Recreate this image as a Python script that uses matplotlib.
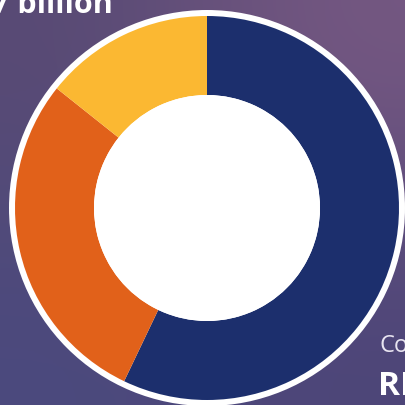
#!/usr/bin/env python3
"""Donut chart on a purple backdrop."""

import matplotlib

matplotlib.use("Agg")
import matplotlib.pyplot as plt
import numpy as np
from matplotlib.patches import Circle

# share of each segment, clockwise from 12 o'clock
labels = ["Blue", "Orange", "Yellow"]
shares = [57.1, 28.6, 14.3]
colors = ["#1c2f6d", "#e1611a", "#fbb832"]

W = H = 406
CX, CY = 207, H - 209

fig = plt.figure(figsize=(4.06, 4.06), dpi=100)
ax = fig.add_axes([0, 0, 1, 1])

# background gradient (corners: top-left, top-right / bottom-left, bottom-right)
corners = np.array(
    [
        [[0x58, 0x4a, 0x74], [0x76, 0x58, 0x82]],
        [[0x4b, 0x4a, 0x7e], [0x4c, 0x45, 0x78]],
    ]
) / 255.0
ax.imshow(corners, extent=(0, W, 0, H), interpolation="bicubic", zorder=0)

# white outline ring
ax.add_patch(Circle((CX, CY), 198, facecolor="white", edgecolor="none", zorder=1))

ax.pie(
    shares,
    colors=colors,
    startangle=90,
    counterclock=False,
    center=(CX, CY),
    radius=192,
    wedgeprops={"width": 192 - 113, "linewidth": 0},
    frame=True,
)
ax.add_patch(Circle((CX, CY), 113, facecolor="white", edgecolor="none", zorder=5))
ax.set_xlim(0, W)
ax.set_ylim(0, H)
ax.set_aspect("equal")
ax.axis("off")

ax.text(-8, H - 13, "7 billion", color="white", fontsize=22, fontweight="bold",
        family="Open Sans", ha="left", va="baseline", zorder=6)
ax.text(380, H - 352, "Co", color="#e8e4f0", fontsize=17, family="Open Sans",
        ha="left", va="baseline", zorder=6)
ax.text(378, H - 395, "RI", color="white", fontsize=24, fontweight="bold",
        family="Open Sans", ha="left", va="baseline", zorder=6)

fig.savefig("out.png", dpi=100)
plt.close(fig)
